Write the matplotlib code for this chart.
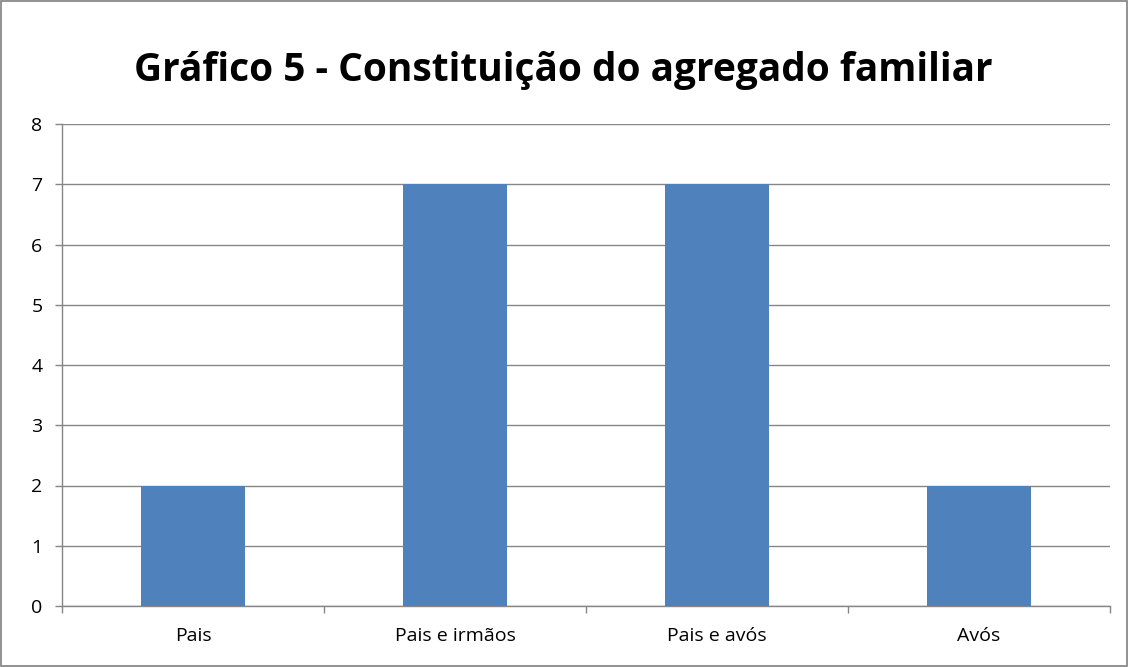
import numpy as np
import matplotlib.pyplot as plt
from matplotlib.patches import Rectangle

# Data
categories = ['Pais', 'Pais e irmãos', 'Pais e avós', 'Avós']
values = [2, 7, 7, 2]
y_ticks = list(range(0, 9))

plt.rcParams['font.family'] = ['Open Sans', 'DejaVu Sans']

fig = plt.figure(figsize=(11.29, 6.67), dpi=100)
ax = fig.add_axes([62 / 1129, 1 - 606 / 667, (1110 - 62) / 1129, (606 - 124) / 667])

x = np.arange(len(categories))
ax.bar(x, values, width=0.4, color='#4F81BD', zorder=3)

ax.set_xlim(-0.5, len(categories) - 0.5)
ax.set_ylim(0, 8)
ax.set_yticks(y_ticks)
ax.yaxis.grid(True, color='#868686', linewidth=1.0, zorder=0)
ax.set_xticks(x)
ax.set_xticklabels(categories)
ax.set_xticks(np.arange(-0.5, len(categories)), minor=True)
ax.tick_params(axis='x', which='major', length=0, labelsize=14, pad=15)
ax.tick_params(axis='x', which='minor', length=5, color='#868686', width=1)
ax.tick_params(axis='y', length=5, color='#868686', width=1, labelsize=14, pad=9)

for side in ['top', 'right']:
    ax.spines[side].set_visible(False)
for side in ['left', 'bottom']:
    ax.spines[side].set_color('#868686')
    ax.spines[side].set_linewidth(1)

fig.text(563 / 1129, 1 - 70 / 667, 'Gráfico 5 - Constituição do agregado familiar',
         ha='center', va='center', fontsize=28, fontweight='bold')

# outer border
fig.patches.append(Rectangle((0.001, 0.001), 0.997, 0.997, transform=fig.transFigure,
                             fill=False, edgecolor='#7f7f7f', linewidth=1.2))

fig.savefig('out.png', dpi=100)
